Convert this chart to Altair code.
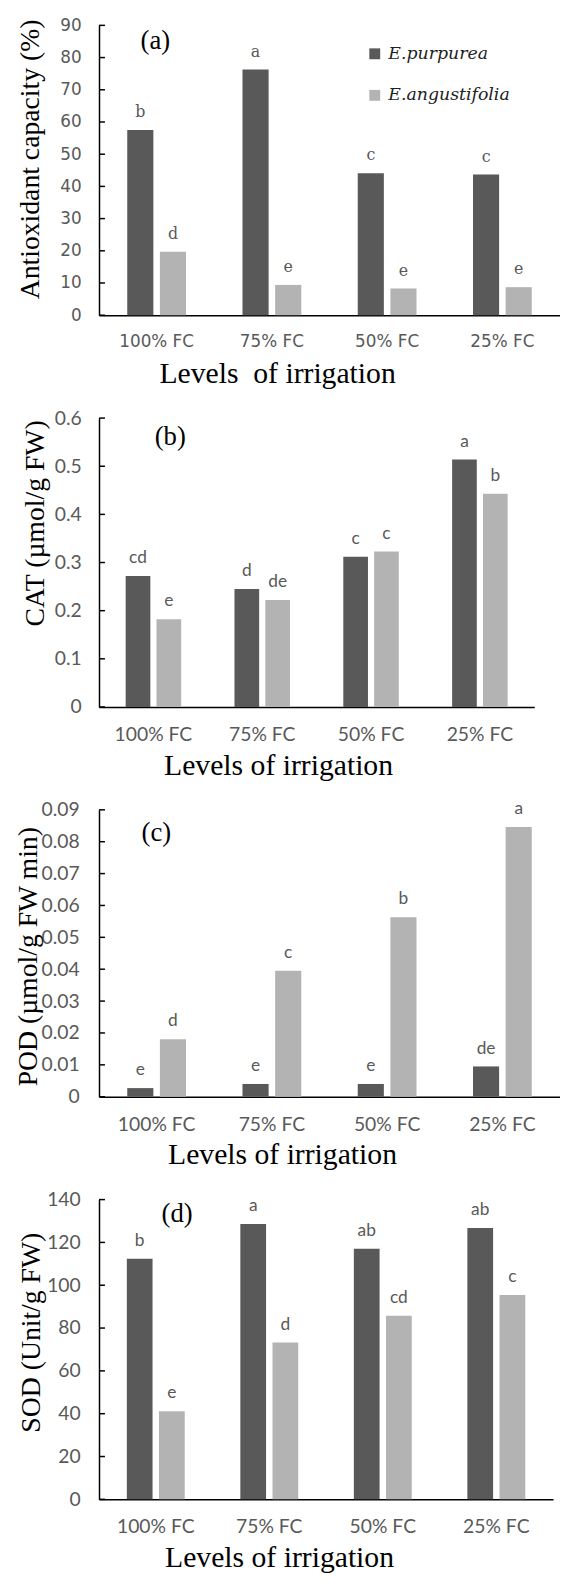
import altair as alt
import pandas as pd

categories = ["100% FC", "75% FC", "50% FC", "25% FC"]
species = ["E.purpurea", "E.angustifolia"]

# (a) Antioxidant capacity (%)
a_purpurea = [57.5, 76.3, 44.1, 43.7]
a_angustifolia = [19.7, 9.4, 8.3, 8.7]
a_let_purpurea = ["b", "a", "c", "c"]
a_let_angustifolia = ["d", "e", "e", "e"]
a_ticks = [0, 10, 20, 30, 40, 50, 60, 70, 80, 90]

# (b) CAT
b_purpurea = [0.272, 0.245, 0.312, 0.514]
b_angustifolia = [0.182, 0.222, 0.323, 0.443]
b_let_purpurea = ["cd", "d", "c", "a"]
b_let_angustifolia = ["e", "de", "c", "b"]
b_ticks = [0, 0.1, 0.2, 0.3, 0.4, 0.5, 0.6]

# (c) POD
c_purpurea = [0.0027, 0.0040, 0.0040, 0.0095]
c_angustifolia = [0.0180, 0.0395, 0.0563, 0.0846]
c_let_purpurea = ["e", "e", "e", "de"]
c_let_angustifolia = ["d", "c", "b", "a"]
c_ticks = [0, 0.01, 0.02, 0.03, 0.04, 0.05, 0.06, 0.07, 0.08, 0.09]

# (d) SOD
d_purpurea = [112.4, 128.6, 117.0, 126.7]
d_angustifolia = [41.2, 73.3, 85.7, 95.4]
d_let_purpurea = ["b", "a", "ab", "ab"]
d_let_angustifolia = ["e", "d", "cd", "c"]
d_ticks = [0, 20, 40, 60, 80, 100, 120, 140]

y_titles = ["Antioxidant capacity (%)", "CAT (\u00b5mol/g FW)",
            "POD (\u00b5mol/g FW min)", "SOD (Unit/g FW)"]
x_titles = ["Levels\u00a0 of irrigation", "Levels of irrigation",
            "Levels of irrigation", "Levels of irrigation"]
panel_labels = ["(a)", "(b)", "(c)", "(d)"]

COLORS = ["#595959", "#b3b3b3"]
GRAY = "#595959"


def make_df(vp, va, lp, la):
    rows = []
    for i, c in enumerate(categories):
        rows.append({"cat": c, "sp": species[0], "value": vp[i], "let": lp[i]})
        rows.append({"cat": c, "sp": species[1], "value": va[i], "let": la[i]})
    return pd.DataFrame(rows)


def panel(df, ticks, ytitle, xtitle, plabel, width, height, tick_font, tick_size,
          let_font, let_size, ytx, yty, xtx, xty, plx, ply, lab_pad, legend):
    dmax = ticks[-1]
    yscale = alt.Scale(domain=[0, dmax], nice=False, zero=True)
    yaxis = alt.Axis(values=ticks, labelExpr="'' + datum.value", title=ytitle, grid=False,
                     ticks=False, tickSize=0, labelPadding=lab_pad,
                     labelFont=tick_font, labelFontSize=tick_size, labelColor=GRAY,
                     titleFont="Liberation Serif", titleFontSize=28,
                     titleFontWeight="normal", titleColor="black",
                     titleX=ytx, titleY=yty, titleBaseline="middle",
                     titleAngle=270, domainColor="black", domainWidth=1.5)
    xaxis = alt.Axis(title=xtitle, labelAngle=0, ticks=False, tickSize=0,
                     labelPadding=19, labelFont=tick_font, labelFontSize=tick_size,
                     labelColor=GRAY, titleFont="Liberation Serif", titleFontSize=30,
                     titleFontWeight="normal", titleColor="black",
                     titleX=xtx, titleY=xty, titleBaseline="middle",
                     domainColor="black", domainWidth=1.5)
    xenc = alt.X("cat:N", sort=categories, axis=xaxis,
                 scale=alt.Scale(paddingInner=0.49, paddingOuter=0.245))
    xoff = alt.XOffset("sp:N", sort=species,
                       scale=alt.Scale(paddingInner=0.2, paddingOuter=0))
    yenc = alt.Y("value:Q", scale=yscale, axis=yaxis)

    if legend:
        leg = alt.Legend(title=None, orient="none", legendX=270, legendY=20,
                         symbolType="square", symbolSize=121, symbolStrokeWidth=0,
                         labelFont="DejaVu Serif", labelFontStyle="italic",
                         labelFontSize=17.5, labelColor="#222222", labelOffset=5,
                         rowPadding=23, padding=0)
    else:
        leg = None
    color = alt.Color("sp:N", sort=species,
                      scale=alt.Scale(domain=species, range=COLORS), legend=leg)

    base = alt.Chart(df)
    bars = base.mark_bar().encode(x=xenc, xOffset=xoff, y=yenc, color=color)
    letters = base.mark_text(font=let_font, fontSize=let_size, color=GRAY,
                             baseline="alphabetic", dy=-13).encode(
        x=xenc, xOffset=xoff, y=yenc, text="let:N")
    tick_df = pd.DataFrame({"tick": ticks})
    rules = alt.Chart(tick_df).mark_rule(color="black", strokeWidth=1.5).encode(
        y=alt.Y("tick:Q", scale=yscale, axis=yaxis),
        x=alt.value(0), x2=alt.value(6))
    lab = alt.Chart(pd.DataFrame({"t": [plabel]})).mark_text(
        font="Liberation Serif", fontSize=27, color="black",
        baseline="middle", align="center").encode(
        text="t:N", x=alt.value(plx), y=alt.value(ply))
    return alt.layer(bars, letters, rules, lab).properties(width=width, height=height)


pa = panel(make_df(a_purpurea, a_angustifolia, a_let_purpurea, a_let_angustifolia),
           a_ticks, y_titles[0], x_titles[0], panel_labels[0], 466, 293,
           "DejaVu Sans", 17, "DejaVu Serif", 16, -69.5, 135, 180, 59, 57, 16, 18, True)
pb = panel(make_df(b_purpurea, b_angustifolia, b_let_purpurea, b_let_angustifolia),
           b_ticks, y_titles[1], x_titles[1], panel_labels[1], 440, 292,
           "Lato", 19.5, "Lato", 17.5, -64.5, 106, 181, 59, 72, 19, 18, False)
pc = panel(make_df(c_purpurea, c_angustifolia, c_let_purpurea, c_let_angustifolia),
           c_ticks, y_titles[2], x_titles[2], panel_labels[2], 466, 290,
           "Lato", 19.5, "Lato", 17.5, -71.5, 148, 185, 59, 58, 23, 20, False)
pd_ = panel(make_df(d_purpurea, d_angustifolia, d_let_purpurea, d_let_angustifolia),
            d_ticks, y_titles[3], x_titles[3], panel_labels[3], 459, 303,
            "Lato", 19.5, "Lato", 17.5, -68.5, 134, 182, 59, 79, 15, 19, False)

chart = alt.vconcat(pa, pb, pc, pd_, spacing=104, bounds="flush").resolve_scale(
    x="independent", y="independent", color="independent", xOffset="independent"
).resolve_legend(color="independent").resolve_axis(x="independent", y="independent").properties(
    padding={"left": 6, "top": 0, "right": 0, "bottom": 0},
    background="white"
).configure_view(strokeWidth=0)

chart.save("out.html", embed_options={"renderer": "svg", "actions": False})
